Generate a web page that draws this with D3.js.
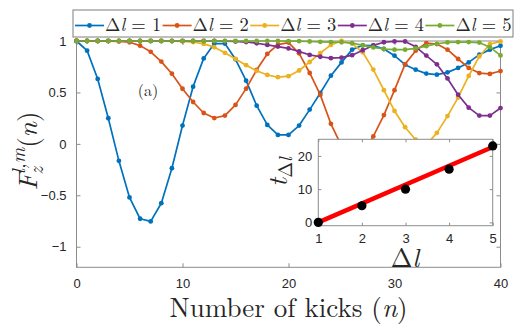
<!DOCTYPE html>
<html>
<head>
<meta charset="utf-8">
<script src="https://cdn.jsdelivr.net/npm/d3@7"></script>
<style>
  body { margin: 0; background: #fff; }
  text { fill: #262626; }
  .tick text { font-family: "Liberation Sans", Arial, sans-serif; font-size: 13px; }
</style>
</head>
<body>
<div id="chart"></div>
<script>
// kicks n = 0..40
const kicks = d3.range(0, 41);

const dl1 = [1, 0.906, 0.631, 0.249, -0.165, -0.521, -0.728, -0.754, -0.577, -0.237,
  0.178, 0.556, 0.831, 0.975, 0.975, 0.822, 0.614, 0.371, 0.184, 0.087,
  0.087, 0.178, 0.333, 0.495, 0.663, 0.792, 0.916, 0.958, 0.955, 0.922,
  0.857, 0.77, 0.721, 0.683, 0.673, 0.695, 0.738, 0.792, 0.867, 0.916, 0.954];
const dl2 = [1, 1, 1, 0.999, 0.996, 0.988, 0.955, 0.895, 0.8, 0.682,
  0.536, 0.407, 0.3, 0.251, 0.275, 0.379, 0.537, 0.72, 0.874, 0.964,
  0.985, 0.88, 0.689, 0.476, 0.195, -0.02, -0.12, -0.1, 0.072, 0.28,
  0.522, 0.775, 0.906, 0.98, 0.97, 0.916, 0.825, 0.738, 0.688, 0.68, 0.708];
const dl3 = [1, 1, 1, 1, 1, 1, 1, 1, 1, 0.999,
  0.997, 0.99, 0.972, 0.94, 0.885, 0.825, 0.765, 0.71, 0.67, 0.648,
  0.658, 0.713, 0.796, 0.883, 0.962, 1.0, 0.975, 0.89, 0.722, 0.522,
  0.32, 0.162, 0.04, -0.01, 0.107, 0.27, 0.45, 0.66, 0.85, 0.97, 0.995];
const dl4 = [1, 1, 1, 1, 1, 1, 1, 1, 1, 1,
  1, 1, 1, 1, 0.998, 0.995, 0.99, 0.978, 0.962, 0.946,
  0.928, 0.898, 0.865, 0.847, 0.833, 0.838, 0.862, 0.91, 0.957, 0.988,
  0.996, 0.995, 0.943, 0.858, 0.773, 0.636, 0.478, 0.352, 0.275, 0.275, 0.348];
const dl5 = [1, 1, 1, 1, 1, 1, 1, 1, 1, 1,
  1, 1, 1, 1, 1, 1, 1, 1, 1, 1,
  0.999, 0.998, 0.995, 0.992, 0.99, 0.988, 0.98, 0.957, 0.938, 0.922,
  0.916, 0.916, 0.929, 0.95, 0.973, 0.986, 0.99, 0.99, 0.985, 0.94, 0.86];

const seriesNames = ["1", "2", "3", "4", "5"];
const colors = ["#0072BD", "#D95319", "#EDB120", "#7E2F8E", "#77AC30"];
const xTicks = [0, 10, 20, 30, 40];
const yTicks = [-1, -0.5, 0, 0.5, 1];

// inset: t vs delta l
const insetDl = [1, 2, 3, 4, 5];
const insetT = [0, 5, 10, 16, 23];
const fitT = [0, 22.7];
const insetYTicks = [0, 10, 20];

// LaTeX look
const serif = "'Latin Modern Roman', 'Liberation Serif', serif";

const W = 529, H = 324;
const svg = d3.select("#chart").append("svg")
  .attr("width", W).attr("height", H);

// main axes
const x = d3.scaleLinear().domain([0, 40]).range([76.5, 500.5]);
const y = d3.scaleLinear().domain([-1.2, 1]).range([267.3, 41]);

const axisCol = "#8c8c8c";

function styleAxis(g) {
  g.select(".domain").remove();
  g.selectAll(".tick line").attr("stroke", axisCol);
}

svg.append("g").attr("transform", `translate(0,${y(-1.2)})`)
  .call(d3.axisBottom(x).tickValues(xTicks).tickSize(-4).tickPadding(11))
  .call(styleAxis);
svg.append("g").attr("transform", `translate(0,${y(1)})`)
  .call(d3.axisTop(x).tickValues(xTicks).tickSize(-4).tickFormat(""))
  .call(styleAxis);
svg.append("g").attr("transform", `translate(${x(0)},0)`)
  .call(d3.axisLeft(y).tickValues(yTicks).tickSize(-4).tickPadding(10).tickFormat(d3.format("")))
  .call(styleAxis);
svg.append("g").attr("transform", `translate(${x(40)},0)`)
  .call(d3.axisRight(y).tickValues(yTicks).tickSize(-4).tickFormat(""))
  .call(styleAxis);

svg.append("rect")
  .attr("x", x(0)).attr("y", y(1))
  .attr("width", x(40) - x(0)).attr("height", y(-1.2) - y(1))
  .attr("fill", "none").attr("stroke", axisCol).attr("stroke-width", 1);

// curves
const allSeries = [dl1, dl2, dl3, dl4, dl5];
const line = d3.line().x((d, i) => x(kicks[i])).y(d => y(d));

allSeries.forEach((s, k) => {
  const g = svg.append("g");
  g.append("path").datum(s)
    .attr("d", line)
    .attr("fill", "none")
    .attr("stroke", colors[k])
    .attr("stroke-width", 1.7)
    .attr("stroke-linejoin", "round");
  g.selectAll("circle").data(s).join("circle")
    .attr("cx", (d, i) => x(kicks[i]))
    .attr("cy", d => y(d))
    .attr("r", 2.4)
    .attr("fill", colors[k]);
});

// panel label
svg.append("text")
  .attr("font-family", serif)
  .attr("x", 148).attr("y", 96)
  .attr("text-anchor", "middle")
  .attr("font-size", 16)
  .text("(a)");

// axis labels
svg.append("text")
  .attr("font-family", serif)
  .attr("x", (x(0) + x(40)) / 2).attr("y", 317)
  .attr("text-anchor", "middle")
  .attr("font-size", 27)
  .call(t => {
    t.append("tspan").text("Number of kicks (");
    t.append("tspan").attr("font-style", "italic").text("n");
    t.append("tspan").text(")");
  });

svg.append("text")
  .attr("font-family", serif)
  .attr("transform", "translate(37,151) rotate(-90)")
  .attr("text-anchor", "middle")
  .attr("font-size", 27)
  .call(t => {
    t.append("tspan").attr("font-style", "italic").text("F");
    t.append("tspan").attr("font-style", "italic").attr("font-size", 19)
      .attr("dx", -2).attr("dy", 6).text("z");
    t.append("tspan").attr("font-style", "italic").attr("font-size", 19)
      .attr("dx", -7).attr("dy", -18).text("l,m");
    t.append("tspan").attr("dy", 12).text("(");
    t.append("tspan").attr("font-style", "italic").text("n");
    t.append("tspan").text(")");
  });

// inset
const xi = d3.scaleLinear().domain([1, 5]).range([318.3, 492.7]);
const yi = d3.scaleLinear().domain([-1, 25]).range([225.7, 139.3]);

svg.append("rect")
  .attr("x", xi(1)).attr("y", yi(25))
  .attr("width", xi(5) - xi(1)).attr("height", yi(-1) - yi(25))
  .attr("fill", "#fff").attr("stroke", axisCol).attr("stroke-width", 1);

svg.append("g").attr("transform", `translate(0,${yi(-1)})`)
  .call(d3.axisBottom(xi).tickValues(insetDl).tickSize(-3).tickPadding(8).tickFormat(d3.format("d")))
  .call(styleAxis);
svg.append("g").attr("transform", `translate(0,${yi(25)})`)
  .call(d3.axisTop(xi).tickValues(insetDl).tickSize(-3).tickFormat(""))
  .call(styleAxis);
svg.append("g").attr("transform", `translate(${xi(1)},0)`)
  .call(d3.axisLeft(yi).tickValues(insetYTicks).tickSize(-3).tickPadding(6))
  .call(styleAxis);
svg.append("g").attr("transform", `translate(${xi(5)},0)`)
  .call(d3.axisRight(yi).tickValues(insetYTicks).tickSize(-3).tickFormat(""))
  .call(styleAxis);

svg.append("line")
  .attr("x1", xi(insetDl[0])).attr("y1", yi(fitT[0]))
  .attr("x2", xi(insetDl[4])).attr("y2", yi(fitT[1]))
  .attr("stroke", "#ff0000").attr("stroke-width", 4.5);

svg.selectAll(".pt").data(insetT).join("circle")
  .attr("class", "pt")
  .attr("cx", (d, i) => xi(insetDl[i]))
  .attr("cy", d => yi(d))
  .attr("r", 4.6)
  .attr("fill", "#000");

svg.append("text")
  .attr("font-family", serif)
  .attr("x", 405).attr("y", 267)
  .attr("text-anchor", "middle")
  .attr("font-size", 26)
  .call(t => {
    t.append("tspan").text("\u0394");
    t.append("tspan").attr("font-style", "italic").text("l");
  });

svg.append("text")
  .attr("font-family", serif)
  .attr("transform", "translate(287,172) rotate(-90)")
  .attr("text-anchor", "middle")
  .attr("font-size", 27)
  .call(t => {
    t.append("tspan").attr("font-style", "italic").text("t");
    t.append("tspan").attr("font-size", 19).attr("dy", 5).text("\u0394");
    t.append("tspan").attr("font-size", 19).attr("font-style", "italic").text("l");
  });

// legend
const legX = 73, legY = 10, legW = 440, legH = 27;
const leg = svg.append("g");
leg.append("rect")
  .attr("x", legX).attr("y", legY).attr("width", legW).attr("height", legH)
  .attr("fill", "#fff").attr("stroke", "#7f7f7f").attr("stroke-width", 1);

const step = 87.6;
seriesNames.forEach((name, k) => {
  const x0 = 75 + k * step;
  const g = leg.append("g").attr("transform", `translate(${x0},${legY + 15.5})`);
  g.append("line").attr("x1", 0).attr("x2", 29)
    .attr("stroke", colors[k]).attr("stroke-width", 1.7);
  g.append("circle").attr("cx", 14.5).attr("r", 2.4).attr("fill", colors[k]);
  g.append("text")
    .attr("font-family", serif)
    .attr("x", 30).attr("y", 5)
    .attr("font-size", 18.5)
    .call(t => {
      t.append("tspan").text("\u0394");
      t.append("tspan").attr("font-style", "italic").text("l");
      t.append("tspan").text(" = " + name);
    });
});
</script>
</body>
</html>
